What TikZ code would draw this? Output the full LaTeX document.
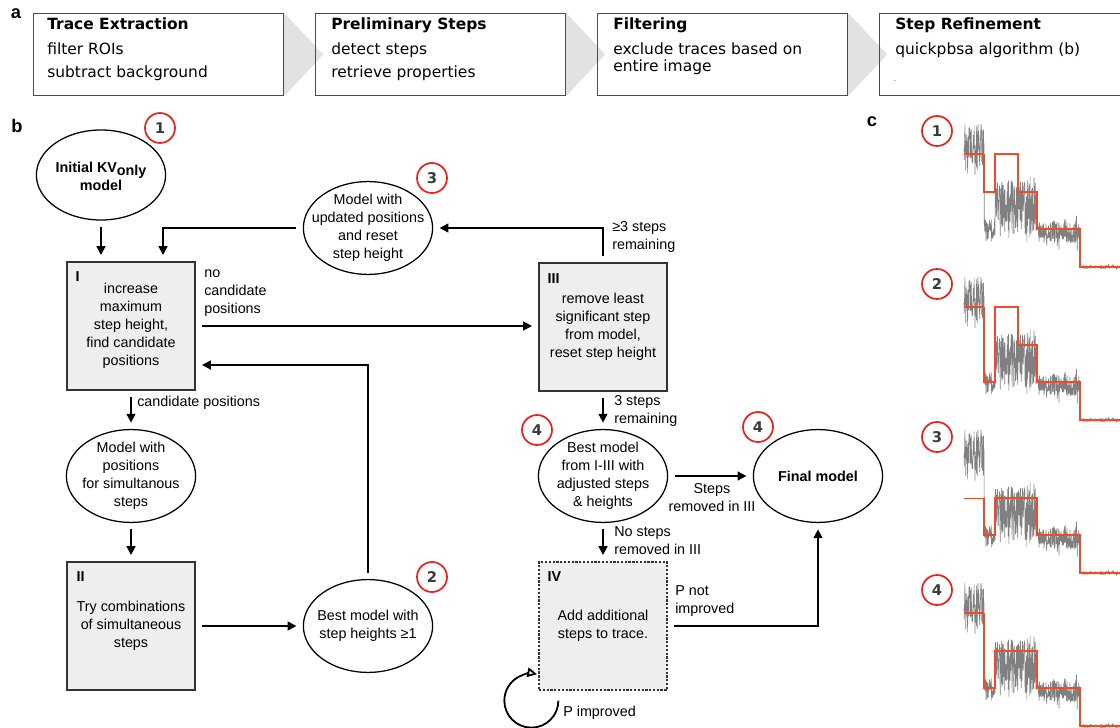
\documentclass[tikz,border=0pt]{standalone}
\usepackage{fontspec}
\setmainfont{Liberation Sans}
\newfontfamily\dejavu{DejaVu Sans}
\usetikzlibrary{arrows.meta,positioning,calc,shapes.geometric,backgrounds}
\definecolor{numred}{HTML}{E8201E}
\definecolor{fitred}{HTML}{EE4B2B}
\definecolor{stepgray}{HTML}{EEEEEE}
\definecolor{chevgray}{HTML}{E2E2E2}
\definecolor{tracegray}{HTML}{808080}
\definecolor{numgray}{HTML}{3A3A3A}

\begin{document}
\begin{tikzpicture}[x=0.025cm, y=-0.025cm,
  stagebox/.style={draw=black!70, line width=0.8pt, minimum width=6.25cm, minimum height=2.05cm, anchor=north west, inner sep=0},
  stagetext/.style={anchor=north west, align=left, inner sep=0, font=\dejavu\fontsize{11}{12.2}\selectfont},
  chevron/.style={fill=chevgray, draw=none},
  modelell/.style={draw, ellipse, line width=0.9pt, minimum width=3.23cm, minimum height=2.32cm, inner sep=0},
  elltext/.style={align=center, inner sep=0, font=\fontsize{10.2}{12.8}\selectfont},
  stepbox/.style={draw=black!80, line width=0.9pt, fill=stepgray, minimum width=3.2cm, minimum height=3.2cm, inner sep=0, align=center, font=\fontsize{10.2}{12.8}\selectfont},
  tagtext/.style={anchor=north west, inner sep=0, font=\bfseries\fontsize{10.2}{12}\selectfont},
  num/.style={circle, draw=numred, line width=1.2pt, minimum size=0.75cm, inner sep=0, text=numgray, font=\dejavu\bfseries\fontsize{10.5}{10.5}\selectfont},
  lbl/.style={align=left, inner sep=0, font=\fontsize{10.2}{12.8}\selectfont},
  panel/.style={inner sep=0, font=\bfseries\fontsize{13}{13}\selectfont},
  arr/.style={-{Triangle[length=2.2mm,width=2.2mm]}, line width=1.3pt, shorten <=4.5pt, shorten >=4.5pt},
  loopback/.style={-{Triangle[open,length=2.4mm,width=2.4mm]}, line width=1.3pt},
  noisy/.style={tracegray, line width=0.45pt, line join=round},
  stepfit/.style={fitred, line width=1.2pt},
]
\useasboundingbox (0,0) rectangle (1120,728);

% panel a: pipeline
\node[panel] (la) at (16,14) {a};
\node[stagebox] (te) at (33,13) {};
\node[stagebox] (ps) at (315,13) {};
\node[stagebox] (fi) at (597,13) {};
\node[stagebox] (sr) at (879,13) {};
\begin{scope}[on background layer]
  \foreach \s in {te,ps,fi}
    \fill[chevron] (\s.north east) -- ($(\s.east)+(39,0)$) -- (\s.south east) -- cycle;
\end{scope}
\node[stagetext] (tetxt) at ($(te.north west)+(14,4)$) {\textbf{Trace Extraction}\\[5.6pt]filter ROIs\\[4.8pt]subtract background};
\node[stagetext] (pstxt) at ($(ps.north west)+(16,4)$) {\textbf{Preliminary Steps}\\[5.6pt]detect steps\\[4.8pt]retrieve properties};
\node[stagetext] (fitxt) at ($(fi.north west)+(16,4)$) {\textbf{Filtering}\\[5.6pt]exclude traces based on\\entire image};
\node[stagetext] (srtxt) at ($(sr.north west)+(16,4)$) {\textbf{Step Refinement}\\[5.6pt]quickpbsa algorithm (b)};
\node[inner sep=0, text=black!60, font=\dejavu\fontsize{6}{6}\selectfont] (srdot) at (895,81) {.};

% panel b: algorithm
\node[panel] (lb) at (17,126) {b};
\node[modelell, minimum height=2.25cm] (kv) at (101,175) {};
\node[elltext, font=\bfseries\fontsize{10.2}{12.8}\selectfont] (kvtxt) at ([yshift=-1pt]kv) {Initial KV\raisebox{-0.45ex}{only}\\model};
\node[num] (c1) at (160,128) {1};
\node[stepbox] (boxI) at (131,326) {increase\\maximum\\step height,\\find candidate\\positions};
\node[tagtext] (tagI) at ($(boxI.north west)+(9,10)$) {I};
\node[modelell] (simpos) at (131,476) {};
\node[elltext] (simpostxt) at (simpos) {Model with\\positions\\for simultanous\\steps};
\node[stepbox] (boxII) at (131,626) {Try combinations\\of simultaneous\\steps};
\node[tagtext] (tagII) at ($(boxII.north west)+(10,10)$) {II};
\node[modelell] (best) at (368,626) {};
\node[elltext] (besttxt) at (best) {Best model with\\step heights ≥1};
\node[num] (c2) at (432,577) {2};
\node[modelell] (upd) at (368,228) {};
\node[elltext] (updtxt) at (upd) {Model with\\updated positions\\and reset\\step height};
\node[num] (c3) at (432,178) {3};
\node[stepbox] (boxIII) at (603,327) {remove least\\significant step\\from model,\\reset step height};
\node[tagtext] (tagIII) at ($(boxIII.north west)+(9,11)$) {III};
\node[modelell] (adj) at (603,476) {};
\node[elltext] (adjtxt) at (adj) {Best model\\from I-III with\\adjusted steps\\\& heights};
\node[num] (c4a) at (537,430) {4};
\node[modelell] (final) at (818,476) {};
\node[elltext, font=\bfseries\fontsize{10.2}{12.8}\selectfont] (finaltxt) at (final) {Final model};
\node[num] (c4b) at (758,427) {4};
\node[stepbox, dash pattern=on 1.6pt off 1.1pt] (boxIV) at (603,626) {Add additional\\steps to trace.};
\node[tagtext] (tagIV) at ($(boxIV.north west)+(9,10)$) {IV};

\draw[arr] (kv) -- (kv |- boxI.north);
\draw[arr] (upd.west) -| ($(boxI.north)+(32,0)$);
\draw[arr] (boxI.east) -- (boxI.east -| boxIII.west);
\draw[arr] (best.north) |- ($(boxI.east)+(0,39)$);
\draw[arr] (boxI) -- (simpos);
\draw[arr] (simpos) -- (boxII);
\draw[arr] (boxII) -- (best);
\draw[arr] (boxIII.north) |- (upd.east);
\draw[arr] (boxIII) -- (adj);
\draw[arr] (adj) -- (final);
\draw[arr] (adj) -- (boxIV);
\draw[arr] (boxIV.east) -| (final.south);
\coordinate (loopstart) at ($(boxIV.south west)+(20,10)$);
\draw[loopback] (loopstart) arc[start angle=0, end angle=282, radius=27];

\node[lbl, anchor=west] (lnocand) at (204,293) {no\\candidate\\positions};
\node[lbl, anchor=west] (lcand) at (137,403) {candidate positions};
\node[lbl, anchor=west] (lmore) at (612,237) {≥3 steps\\remaining};
\node[lbl, anchor=west] (lthree) at (614,411) {3 steps\\remaining};
\node[lbl, anchor=west] (lnorem) at (614,541) {No steps\\removed in III};
\node[lbl, align=center] (lrem) at (712,498) {Steps\\removed in III};
\node[lbl, anchor=west] (lnotimp) at (675,601) {P not\\improved};
\node[lbl, anchor=west] (limp) at (563,713) {P improved};

% panel c: example traces
\node[panel] (lc) at (872,122) {c};
\foreach \k/\a/\b/\c/\d/\w in {0/154/192/154/192/1.2, 1/154/229/154/192/1.2, 2/192/229/192/192/0.6, 3/154/229/192/192/1.2}{
  \pgfmathtruncatemacro{\n}{\k+1}
  \node[num] (cc\n) at (937,131+153*\k) {\n};
  \begin{scope}[shift={(0,153*\k)}]
    \pgfmathsetseed{11}
    \draw[noisy] plot[domain=964:984, samples=90] (\x,{146+22*rand+26*rand*rand*rand})
      -- plot[domain=984.3:995, samples=45] (\x,{230+11*rand+7*rand*rand*rand})
      -- plot[domain=995.3:1037, samples=170] (\x,{208+26*rand+28*rand*rand*rand})
      -- plot[domain=1037.3:1080, samples=170] (\x,{232+12*rand+15*rand*rand*rand})
      -- plot[domain=1080.3:1120, samples=120] (\x,{267+1.5*rand+2.5*rand*rand*rand});
    \draw[stepfit, line width=\w pt] (964,\a) -- (984,\a);
    \draw[stepfit] (984,\a) -- (984,\b) -| (995,\c) -| (1018,\d) -| (1037,229) -| (1080,267) -- (1120,267);
  \end{scope}
}
\end{tikzpicture}
\end{document}
